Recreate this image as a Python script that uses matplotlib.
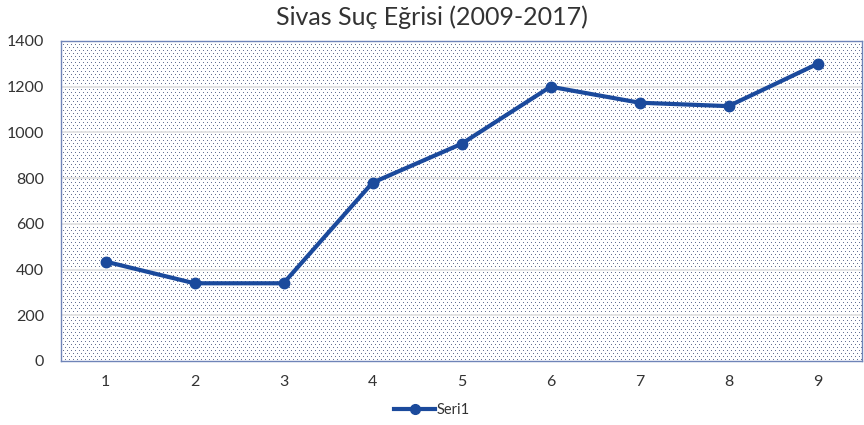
import numpy as np
import matplotlib
matplotlib.use("Agg")
import matplotlib.pyplot as plt
from matplotlib.lines import Line2D

categories = [1, 2, 3, 4, 5, 6, 7, 8, 9]
seri1 = [435, 340, 340, 780, 950, 1200, 1130, 1115, 1300]
yticks = [0, 200, 400, 600, 800, 1000, 1200, 1400]

plt.rcParams['font.family'] = ['Lato', 'DejaVu Sans']

W, H = 864, 425
fig = plt.figure(figsize=(W / 100, H / 100), dpi=100)
left, right, top, bottom = 61, 862, 41, 361
ax = fig.add_axes([left / W, 1 - bottom / H, (right - left) / W, (bottom - top) / H])

# dotted pattern fill for the plot area
pw, ph = right - left, bottom - top
tile = np.ones((ph, pw, 3))
dot = np.array([0.40, 0.45, 0.58])
for i, r in enumerate(range(0, ph, 3)):
    off = 0 if i % 2 == 0 else 2
    tile[r, off::4] = dot
ax.imshow(tile, extent=(0.5, 9.5, 0, 1400), aspect='auto',
          interpolation='antialiased', zorder=0)

ax.set_xlim(0.5, 9.5)
ax.set_ylim(0, 1400)
for y in yticks[1:-1]:
    ax.axhline(y, color='#e3e3e3', lw=1.3, zorder=1)

line_color = '#1b4a9c'
ax.plot(categories, seri1, color=line_color, lw=3, marker='o', ms=7.5,
        zorder=3, label='Seri1')

ax.set_xticks(categories)
ax.set_yticks(yticks)
ax.tick_params(length=0, labelsize=11.5, colors='#333333')
ax.tick_params(axis='x', pad=10)
ax.tick_params(axis='y', pad=12)
for s in ax.spines.values():
    s.set_color('#6f84b8')
    s.set_linewidth(1)

fig.text(0.5, 1 - 17 / H, 'Sivas Suç Eğrisi (2009-2017)', ha='center', va='center',
         fontsize=18, color='#333333')

handle = Line2D([], [], color=line_color, lw=3, marker='o', ms=7)
fig.legend([handle], ['Seri1'], loc='center', bbox_to_anchor=(0.5, 1 - 410 / H),
           frameon=False, fontsize=10.5, handlelength=2.8, handletextpad=0.1,
           labelcolor='#333333')

fig.savefig('out.png', dpi=100)
